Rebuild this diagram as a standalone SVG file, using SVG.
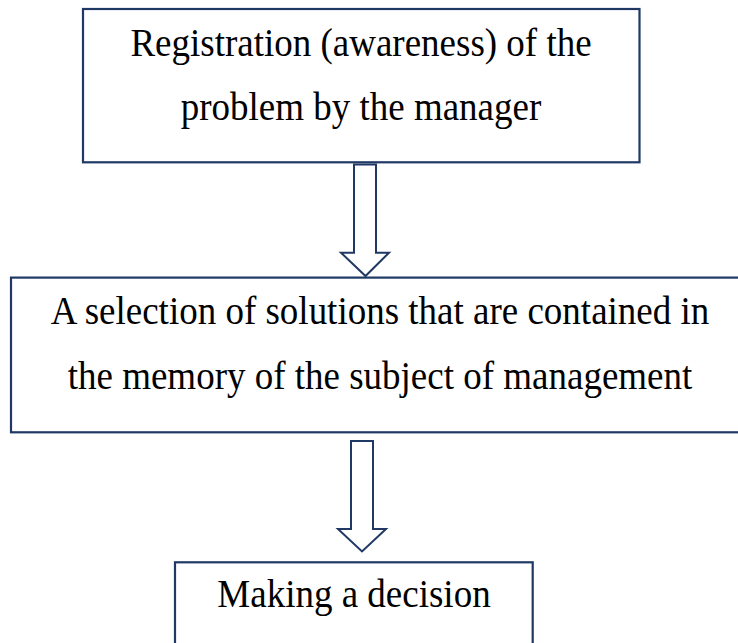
<svg xmlns="http://www.w3.org/2000/svg" width="738" height="643" viewBox="0 0 738 643">
<style>
.box{fill:#ffffff;stroke:#1f3864;stroke-width:2.2}
.arrow{fill:#ffffff;stroke:#1f3864;stroke-width:2;stroke-linejoin:miter}
.t{font-family:"Liberation Serif","Times New Roman",serif;font-size:37px;fill:#000000;text-anchor:middle}
</style>
<rect width="738" height="643" fill="#ffffff"/>
<g id="node-registration">
<rect class="box" x="83" y="9" width="556.5" height="153.3"/>
<text class="t" transform="translate(361,56) scale(1,1.08)">Registration (awareness) of the</text>
<text class="t" transform="translate(361,120) scale(1,1.08)">problem by the manager</text>
</g>
<g id="node-selection">
<rect class="box" x="11" y="277.6" width="740" height="154.7"/>
<text class="t" transform="translate(380,324) scale(1,1.08)">A selection of solutions that are contained in</text>
<text class="t" transform="translate(380,389) scale(1,1.08)">the memory of the subject of management</text>
</g>
<g id="node-decision">
<rect class="box" x="175" y="562.3" width="357.7" height="100"/>
<text class="t" transform="translate(354,607) scale(1,1.08)">Making a decision</text>
</g>
<g id="connectors">
<path class="arrow" d="M354,164.5 H376 V252.7 H389 L365.5,276 L341,252.7 H354 Z"/>
<path class="arrow" d="M351,441 H373 V529 H386 L362,551.5 L338,529 H351 Z"/>
</g>
</svg>
